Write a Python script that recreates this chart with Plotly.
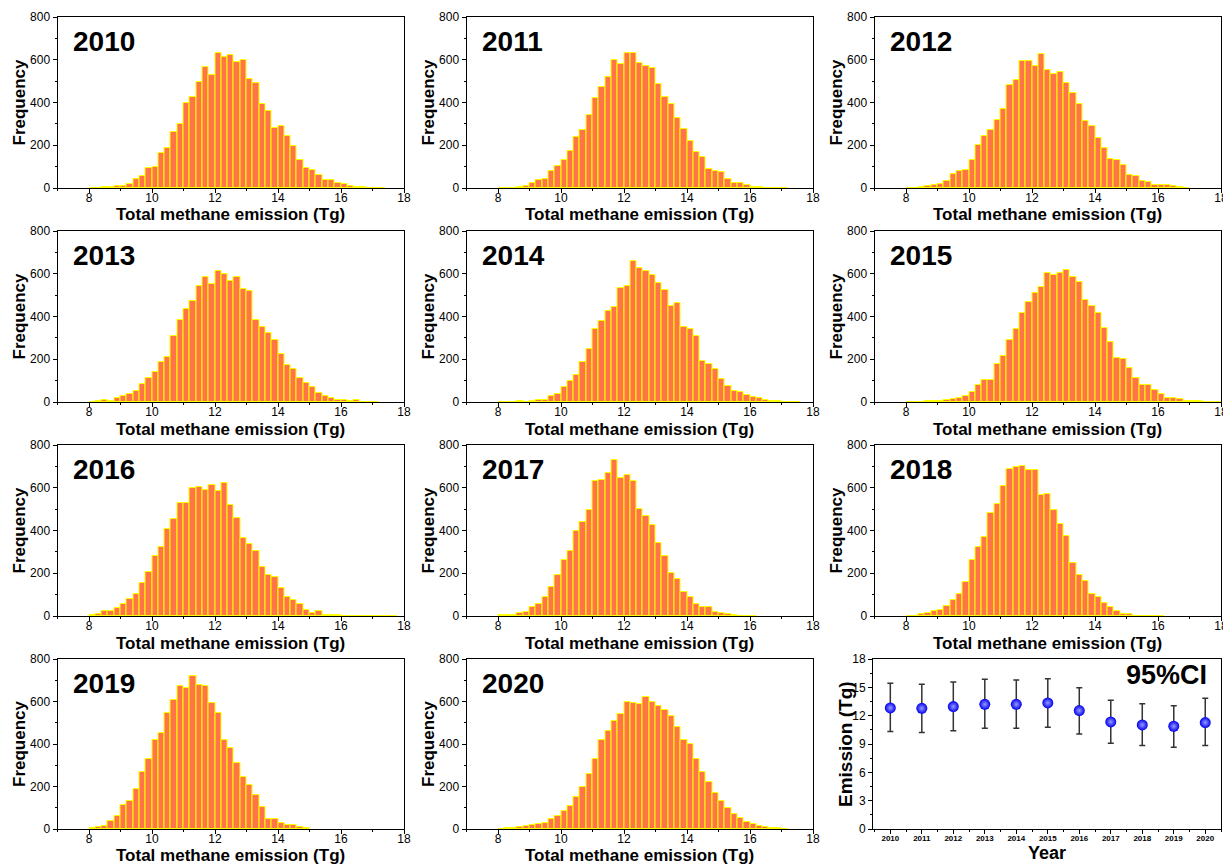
import plotly.graph_objects as go

# ---------------- data ----------------
years = [2010, 2011, 2012, 2013, 2014, 2015, 2016, 2017, 2018, 2019, 2020]
bin_start = 8.0
bin_width = 0.2

counts_2010 = [0, 2, 5, 3, 8, 10, 20, 40, 55, 95, 100, 165, 185, 260, 300, 400, 425, 495, 565, 530,
               630, 615, 620, 590, 597, 510, 490, 395, 360, 280, 290, 245, 195, 133, 95, 83, 60, 37,
               38, 25, 20, 10, 5, 3, 2, 2, 1]
counts_2011 = [1, 1, 2, 3, 8, 25, 36, 44, 78, 101, 133, 173, 239, 271, 340, 421, 474, 520, 600, 580,
               632, 632, 585, 571, 562, 487, 424, 392, 328, 275, 220, 168, 144, 89, 81, 73, 44, 22,
               22, 14, 3, 5, 2, 1, 1, 1]
counts_2012 = [1, 2, 3, 8, 16, 17, 33, 64, 78, 83, 133, 200, 242, 270, 320, 371, 482, 507, 594, 594,
               569, 626, 551, 535, 543, 491, 443, 393, 315, 292, 234, 187, 137, 129, 108, 62, 56, 34,
               27, 14, 14, 14, 9, 3, 2]
counts_2013 = [1, 3, 8, 5, 17, 30, 37, 53, 83, 114, 140, 186, 211, 310, 385, 435, 474, 541, 587, 554,
               615, 599, 566, 585, 527, 521, 384, 351, 321, 289, 225, 172, 153, 114, 90, 70, 42, 27,
               19, 11, 11, 5, 8, 2, 1, 1]
counts_2014 = [0, 1, 1, 3, 2, 6, 11, 11, 30, 39, 69, 100, 125, 186, 246, 343, 379, 426, 445, 535,
               543, 658, 627, 615, 596, 557, 526, 449, 463, 351, 341, 307, 192, 176, 153, 109, 73, 50,
               45, 34, 23, 19, 8, 6, 5, 2, 1, 1]
counts_2015 = [0, 1, 1, 3, 5, 6, 11, 16, 20, 28, 45, 78, 103, 103, 178, 215, 292, 343, 418, 468,
               510, 538, 604, 593, 605, 618, 585, 560, 476, 449, 418, 345, 281, 206, 200, 159, 114, 80,
               80, 58, 36, 19, 20, 12, 3, 3, 5, 2, 1, 1]
counts_2016 = [5, 8, 22, 22, 36, 58, 80, 105, 156, 204, 279, 323, 406, 454, 529, 529, 598, 602, 590, 612,
               587, 621, 518, 457, 363, 335, 304, 231, 193, 181, 129, 89, 75, 56, 28, 14, 22, 6,
               5, 6, 2, 1, 0, 0, 0, 0, 0, 0, 1]
counts_2017 = [3, 6, 6, 12, 19, 41, 58, 90, 137, 190, 262, 306, 399, 441, 495, 630, 637, 668, 732, 644,
               658, 633, 502, 466, 427, 342, 282, 201, 172, 114, 89, 55, 41, 44, 20, 12, 8, 3,
               2, 2, 1]
counts_2018 = [2, 2, 11, 12, 23, 27, 47, 76, 103, 158, 262, 321, 371, 484, 523, 607, 686, 699, 700, 682,
               682, 566, 573, 496, 429, 376, 246, 193, 165, 103, 87, 61, 41, 25, 9, 8, 2, 1,
               2, 1, 1]
counts_2019 = [5, 11, 16, 37, 59, 111, 134, 186, 270, 331, 417, 452, 548, 607, 672, 663, 719, 679, 672, 593,
               546, 417, 379, 312, 245, 209, 161, 103, 48, 48, 27, 19, 17, 8, 3]
counts_2020 = [2, 3, 5, 8, 12, 18, 22, 30, 45, 60, 85, 110, 150, 200, 260, 330, 420, 460, 510, 540,
               600, 595, 590, 620, 600, 580, 560, 530, 480, 420, 400, 330, 270, 220, 170, 130, 100, 70,
               50, 35, 22, 15, 10, 6, 4, 2]

all_counts = [counts_2010, counts_2011, counts_2012, counts_2013, counts_2014, counts_2015,
              counts_2016, counts_2017, counts_2018, counts_2019, counts_2020]

ci_mean = [12.82, 12.78, 12.96, 13.20, 13.20, 13.35, 12.54, 11.34, 11.02, 10.88, 11.27]
ci_low = [10.32, 10.21, 10.39, 10.67, 10.67, 10.77, 10.07, 9.08, 8.84, 8.66, 8.84]
ci_high = [15.42, 15.32, 15.56, 15.85, 15.77, 15.92, 14.96, 13.63, 13.27, 13.06, 13.84]

hist_xticks = [8, 10, 12, 14, 16, 18]
hist_yticks = [0, 200, 400, 600, 800]
ci_yticks = [0, 3, 6, 9, 12, 15, 18]

# ---------------- layout geometry (page pixels; page body has an 8px margin) ----------------
OFF = 8
W, H = 1231 - OFF, 864 - OFF
col_px = [(57.5, 404), (466.5, 813), (874.5, 1221)]
row_px = [(17, 188), (231, 402), (445, 616), (659, 829)]
FONT = "Arial, 'Liberation Sans', sans-serif"


def xdom(a, b):
    return [(a - OFF) / W, (b - OFF) / W]


def ydom(a, b):
    return [1 - (b - OFF) / H, 1 - (a - OFF) / H]


fig = go.Figure()
annotations = []
layout_axes = {}
xtitle_off = -(215 - 188) / 171.0

for i, (yr, cnts) in enumerate(zip(years, all_counts)):
    k = i + 1
    r, c = divmod(i, 3)
    xs = [bin_start + bin_width * (j + 0.5) for j in range(len(cnts))]
    xa = "x" if k == 1 else f"x{k}"
    ya = "y" if k == 1 else f"y{k}"
    fig.add_trace(go.Bar(
        x=xs, y=cnts, width=bin_width, xaxis=xa, yaxis=ya,
        marker=dict(color="#FF7448", line=dict(color="#FFFF00", width=1)),
        showlegend=False,
    ))
    layout_axes[f"xaxis{k}"] = dict(
        domain=xdom(*col_px[c]), anchor=ya, range=[7, 18],
        tickmode="array", tickvals=hist_xticks, ticks="outside", ticklen=4, tickwidth=1,
        tickcolor="black", minor=dict(dtick=1, tick0=7, ticks="outside", ticklen=2, tickcolor="black"),
        showline=True, linecolor="black", linewidth=1, mirror=True, showgrid=False, zeroline=False,
        tickfont=dict(family=FONT, size=12, color="black"), ticklabelstandoff=-5,
        automargin=False,
    )
    layout_axes[f"yaxis{k}"] = dict(
        domain=ydom(*row_px[r]), anchor=xa, range=[0, 800],
        tickmode="array", tickvals=hist_yticks, ticks="outside", ticklen=4, tickwidth=1,
        tickcolor="black", minor=dict(dtick=100, tick0=0, ticks="outside", ticklen=2, tickcolor="black"),
        showline=True, linecolor="black", linewidth=1, mirror=True, showgrid=False, zeroline=False,
        tickfont=dict(family=FONT, size=12, color="black"),
        title=dict(text="<b>Frequency</b>", standoff=0,
                   font=dict(family=FONT, size=17, color="black")),
        automargin=False,
    )
    annotations.append(dict(
        text="<b>Total methane emission (Tg)</b>", xref=f"{xa} domain", yref=f"{ya} domain",
        x=0.5, y=xtitle_off, xanchor="center", yanchor="middle", showarrow=False,
        font=dict(family=FONT, size=17, color="black"),
    ))
    annotations.append(dict(
        text=f"<b>{yr}</b>", xref=f"{xa} domain", yref=f"{ya} domain",
        x=0.04, y=0.855, xanchor="left", yanchor="middle", showarrow=False,
        font=dict(family=FONT, size=28, color="black"),
    ))

# ---------------- 95% CI panel ----------------
fig.add_trace(go.Scatter(
    x=years, y=ci_mean, mode="markers", xaxis="x12", yaxis="y12",
    marker=dict(size=11, color="#0000EE", line=dict(width=0),
                gradient=dict(type="radial", color="#9A9AFF")),
    error_y=dict(type="data", symmetric=False,
                 array=[h - m for h, m in zip(ci_high, ci_mean)],
                 arrayminus=[m - l for m, l in zip(ci_mean, ci_low)],
                 color="#333333", thickness=1.5, width=3),
    showlegend=False,
))
layout_axes["xaxis12"] = dict(
    domain=xdom(873, 1221), anchor="y12", range=[2009.45, 2020.5],
    tickmode="array", tickvals=years, ticktext=[f"<b>{y}</b>" for y in years],
    ticks="outside", ticklen=4, tickcolor="black",
    minor=dict(dtick=1, tick0=2009.5, ticks="outside", ticklen=2, tickcolor="black"),
    showline=True, linecolor="black", linewidth=1, mirror=True, showgrid=False, zeroline=False,
    tickfont=dict(family=FONT, size=8, color="black"), ticklabelstandoff=-3,
    automargin=False,
)
layout_axes["yaxis12"] = dict(
    domain=ydom(659, 829), anchor="x12", range=[0, 18],
    tickmode="array", tickvals=ci_yticks, ticks="outside", ticklen=4, tickcolor="black",
    minor=dict(dtick=1.5, tick0=0, ticks="outside", ticklen=2, tickcolor="black"),
    showline=True, linecolor="black", linewidth=1, mirror=True, showgrid=False, zeroline=False,
    tickfont=dict(family=FONT, size=12, color="black"),
    automargin=False,
)
annotations.append(dict(
    text="<b>Emission (Tg)</b>", xref="x12 domain", yref="y12 domain",
    x=-(873 - 845) / 348.0, y=0.5, textangle=-90, xanchor="center", yanchor="middle",
    showarrow=False, font=dict(family=FONT, size=19, color="black"),
))
annotations.append(dict(
    text="<b>Year</b>", xref="x12 domain", yref="y12 domain",
    x=0.5, y=-(853 - 829) / 170.0, xanchor="center", yanchor="middle",
    showarrow=False, font=dict(family=FONT, size=18, color="black"),
))
annotations.append(dict(
    text="<b>95%CI</b>", xref="x12 domain", yref="y12 domain",
    x=0.965, y=0.905, xanchor="right", yanchor="middle", showarrow=False,
    font=dict(family=FONT, size=27, color="black"),
))

fig.update_layout(
    width=W, height=H, margin=dict(l=0, r=0, t=0, b=0),
    paper_bgcolor="white", plot_bgcolor="white",
    bargap=0, annotations=annotations, font=dict(family=FONT),
    **layout_axes,
)

fig.write_html("out.html")
